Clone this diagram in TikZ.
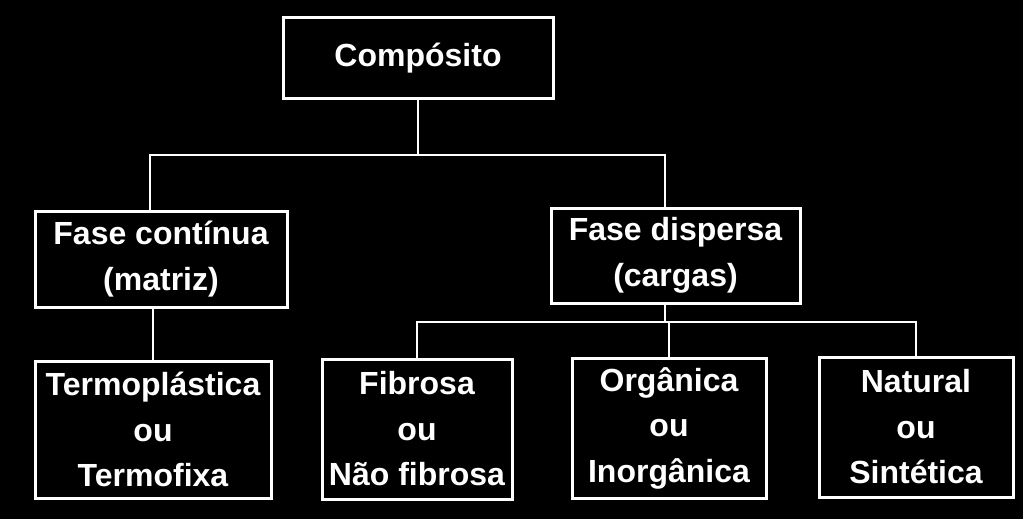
\documentclass[tikz,border=0pt]{standalone}
\usepackage{fontspec}
\setmainfont{Liberation Sans}
\begin{document}
\begin{tikzpicture}[x=1pt,y=1pt,
  box/.style={draw=white, line width=3pt, text=white, align=center, inner sep=0pt,
    font=\bfseries\fontsize{32}{45.5}\selectfont},
  link/.style={draw=white, line width=2.5pt}]
\fill[black] (0,0) rectangle (1023,-519);
\useasboundingbox (0,0) rectangle (1023,-519);
\node[box, minimum width=270, minimum height=80] (comp) at (418,-58) {Compósito};
\node[box, minimum width=252, minimum height=96] (fc) at (161,-259) {Fase contínua\\(matriz)};
\node[box, minimum width=249, minimum height=95] (fd) at (675.5,-255.5) {Fase dispersa\\(cargas)};
\node[box, minimum width=236, minimum height=137] (t) at (153,-429.5) {Termoplástica\\ou\\Termofixa};
\node[box, minimum width=190, minimum height=140] (f) at (417,-429) {Fibrosa\\ou\\Não fibrosa};
\node[box, minimum width=194, minimum height=140] (o) at (669,-428) {Orgânica\\ou\\Inorgânica};
\node[box, minimum width=194, minimum height=140] (n) at (916,-427) {Natural\\ou\\Sintética};
\coordinate (j1) at (418,-155);
\coordinate (b2) at (665,-322);
\draw[link] (comp.south) -- (j1);
\draw[link] ([xshift=-11pt]fc.north) |- (j1) -| ([xshift=-10.5pt]fd.north);
\draw[link] ([xshift=-8pt]fc.south) -- (t.north);
\draw[link] ([xshift=-10.5pt]fd.south) -- (b2);
\draw[link] (f.north) |- (b2) -| (n.north);
\draw[link] (b2 -| o.north) -- (o.north);
\end{tikzpicture}
\end{document}
